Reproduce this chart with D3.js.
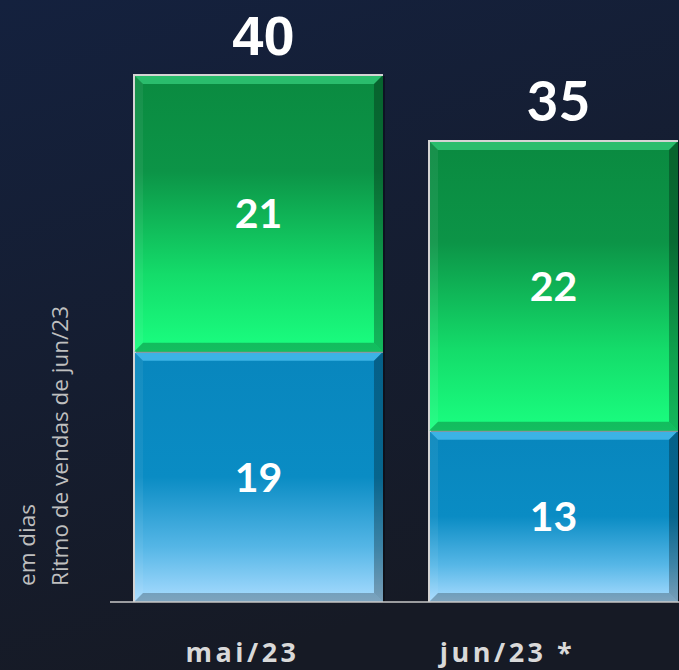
<!DOCTYPE html>
<html>
<head>
<meta charset="utf-8">
<script src="https://cdn.jsdelivr.net/npm/d3@7"></script>
<style>
  html, body { margin: 0; padding: 0; background: #151b2c; overflow: hidden; }
</style>
</head>
<body>
<script>
// values
const categories = ["mai/23", "jun/23 *"];
const blueValues = [19, 13];   // bottom segment
const greenValues = [21, 22];  // top segment
const totals = [40, 35];
const yLabelLines = ["em dias", "Ritmo de vendas de jun/23"];

const w = 679, h = 670;
const svg = d3.select("body").append("svg")
  .attr("width", w)
  .attr("height", h)
  .attr("viewBox", [0, 0, w, h]);

const defs = svg.append("defs");

// background gradient
const bg = defs.append("linearGradient").attr("id", "bg")
  .attr("x1", 0).attr("y1", 0).attr("x2", 0.3).attr("y2", 1);
bg.append("stop").attr("offset", "0%").attr("stop-color", "#14213e");
bg.append("stop").attr("offset", "100%").attr("stop-color", "#161a25");

const gGreen = defs.append("linearGradient").attr("id", "green")
  .attr("x1", 0).attr("y1", 0).attr("x2", 0).attr("y2", 1);
gGreen.append("stop").attr("offset", "0%").attr("stop-color", "#0a8a40");
gGreen.append("stop").attr("offset", "35%").attr("stop-color", "#0c9447");
gGreen.append("stop").attr("offset", "72%").attr("stop-color", "#14dc6a");
gGreen.append("stop").attr("offset", "100%").attr("stop-color", "#1aff80");

const gBlue = defs.append("linearGradient").attr("id", "blue")
  .attr("x1", 0).attr("y1", 0).attr("x2", 0).attr("y2", 1);
gBlue.append("stop").attr("offset", "0%").attr("stop-color", "#0886bd");
gBlue.append("stop").attr("offset", "50%").attr("stop-color", "#0a8cc4");
gBlue.append("stop").attr("offset", "78%").attr("stop-color", "#55b6e6");
gBlue.append("stop").attr("offset", "100%").attr("stop-color", "#a9dcff");

svg.append("rect").attr("width", w).attr("height", h).attr("fill", "url(#bg)");

// scales
const x = d3.scaleBand()
  .domain(categories)
  .range([134, 678])
  .paddingInner(0.156)
  .paddingOuter(0);

const y = d3.scaleLinear()
  .domain([0, 40])
  .range([602, 75]);

// stacked segments
const rows = categories.map((c, i) => ({cat: c, blue: blueValues[i], green: greenValues[i]}));
const stacked = d3.stack().keys(["blue", "green"])(rows);

const bev = 9;
function bevel(g, x0, y0, bw, bh, topLight) {
  const x1 = x0 + bw, y1 = y0 + bh;
  // top
  g.append("polygon")
    .attr("points", [[x0, y0], [x1, y0], [x1 - bev, y0 + bev], [x0 + bev, y0 + bev]].join(" "))
    .attr("fill", topLight).attr("opacity", 0.6);
  // left
  g.append("polygon")
    .attr("points", [[x0, y0], [x0 + bev, y0 + bev], [x0 + bev, y1 - bev], [x0, y1]].join(" "))
    .attr("fill", "#ffffff").attr("opacity", 0.06);
  // right
  g.append("polygon")
    .attr("points", [[x1, y0], [x1, y1], [x1 - bev, y1 - bev], [x1 - bev, y0 + bev]].join(" "))
    .attr("fill", "#000000").attr("opacity", 0.28);
  // bottom
  g.append("polygon")
    .attr("points", [[x0, y1], [x1, y1], [x1 - bev, y1 - bev], [x0 + bev, y1 - bev]].join(" "))
    .attr("fill", "#000000").attr("opacity", 0.25);
}

const colors = {blue: {fill: "url(#blue)", light: "#5fd0ff"}, green: {fill: "url(#green)", light: "#3fe08a"}};

stacked.forEach(layer => {
  layer.forEach((d, i) => {
    const x0 = x(categories[i]);
    const y0 = y(d[1]);
    const bh = y(d[0]) - y(d[1]);
    const bw = x.bandwidth();
    const g = svg.append("g");
    // soft shadow on the right
    g.append("rect")
      .attr("x", x0 + 2).attr("y", y0 + 1)
      .attr("width", bw).attr("height", bh)
      .attr("fill", "#000").attr("opacity", 0.35);
    g.append("rect")
      .attr("x", x0).attr("y", y0)
      .attr("width", bw).attr("height", bh)
      .attr("fill", colors[layer.key].fill);
    bevel(g, x0, y0, bw, bh, colors[layer.key].light);
    // light outline on top and left
    g.append("path")
      .attr("d", `M${x0},${y0 + bh}V${y0}H${x0 + bw}`)
      .attr("fill", "none")
      .attr("stroke", "#d4d4d4")
      .attr("stroke-width", 2);
    // segment value
    g.append("text")
      .attr("x", x0 + bw / 2)
      .attr("y", y0 + bh / 2)
      .attr("dy", "0.36em")
      .attr("text-anchor", "middle")
      .attr("fill", "#ffffff")
      .style("font-family", "Lato, sans-serif")
      .style("font-weight", 700)
      .style("font-size", "41px")
      .text(d[1] - d[0]);
  });
});

// totals above bars
svg.selectAll(".total")
  .data(categories)
  .join("text")
  .attr("class", "total")
  .attr("x", d => x(d) + x.bandwidth() / 2 + 5)
  .attr("y", (d, i) => y(totals[i]) - 20)
  .attr("text-anchor", "middle")
  .attr("fill", "#ffffff")
  .style("font-family", (d, i) => i === 0 ? "'Liberation Sans', Arial, sans-serif" : "Lato, sans-serif")
  .style("font-weight", 700)
  .style("font-size", (d, i) => i === 0 ? "56px" : "55px")
  .text((d, i) => totals[i]);

// baseline
svg.append("line")
  .attr("x1", 110).attr("x2", w)
  .attr("y1", y(0)).attr("y2", y(0))
  .attr("stroke", "#c8c8c8")
  .attr("stroke-width", 1.5);

// category labels
const labelShift = [-16, -46];
svg.selectAll(".cat")
  .data(categories)
  .join("text")
  .attr("class", "cat")
  .attr("x", (d, i) => x(d) + x.bandwidth() / 2 + labelShift[i])
  .attr("y", 662)
  .attr("text-anchor", "middle")
  .attr("fill", "#d9d9d9")
  .style("font-family", "'Open Sans', sans-serif")
  .style("font-weight", 700)
  .style("font-size", "27px")
  .style("letter-spacing", "3.5px")
  .text(d => d);

// rotated axis title
const yt = svg.append("text")
  .attr("transform", "translate(0,586) rotate(-90)")
  .attr("fill", "#bfbfbf")
  .style("font-family", "'Open Sans', sans-serif")
  .style("font-size", "22.5px");
yLabelLines.forEach((t, i) => {
  yt.append("tspan")
    .attr("x", 0)
    .attr("y", i === 0 ? 35 : 68)
    .text(t);
});
</script>
</body>
</html>
